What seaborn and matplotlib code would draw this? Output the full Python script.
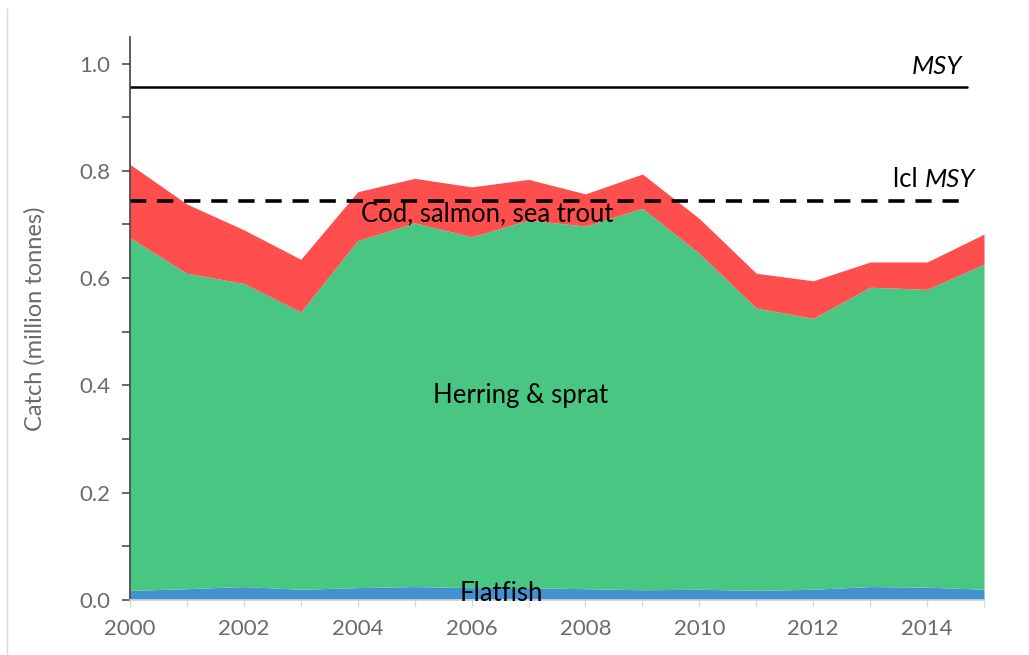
import numpy as np
import pandas as pd
import matplotlib
matplotlib.use("Agg")
import matplotlib.pyplot as plt
from matplotlib.lines import Line2D
from matplotlib.ticker import MultipleLocator
import seaborn as sns

# Baltic Sea catch by species group (million tonnes)
years = [2000, 2001, 2002, 2003, 2004, 2005, 2006, 2007,
         2008, 2009, 2010, 2011, 2012, 2013, 2014, 2015]
flatfish = [0.018, 0.021, 0.025, 0.020, 0.023, 0.025, 0.023, 0.023,
            0.021, 0.019, 0.020, 0.018, 0.020, 0.025, 0.024, 0.020]
herring_sprat = [0.657, 0.588, 0.565, 0.517, 0.647, 0.678, 0.654, 0.685,
                 0.676, 0.711, 0.626, 0.526, 0.505, 0.558, 0.555, 0.606]
cod_salmon_trout = [0.137, 0.129, 0.100, 0.098, 0.091, 0.083, 0.093, 0.076,
                    0.060, 0.064, 0.065, 0.065, 0.070, 0.047, 0.051, 0.056]

msy = 0.957
lcl_msy = 0.744
ref_years = [2000, 2014.7]

sns.set_theme(style="white")
plt.rcParams["font.family"] = ["Lato", "DejaVu Sans"]

fig = plt.figure(figsize=(10.29, 6.55), dpi=100)
ax = fig.add_axes([0.1263, 0.084, 0.8300, 0.860])

green = "#48C682"
red = "#FE4E4E"
blue = "#4392D0"

ax.stackplot(years, flatfish, herring_sprat, cod_salmon_trout,
             colors=[blue, green, red], linewidth=0)

ref = pd.DataFrame({"year": ref_years * 2,
                    "value": [msy, msy, lcl_msy, lcl_msy],
                    "line": ["MSY", "MSY", "lcl MSY", "lcl MSY"]})
sns.lineplot(data=ref[ref.line == "MSY"], x="year", y="value", ax=ax,
             color="black", linewidth=1.8, legend=False)
sns.lineplot(data=ref[ref.line == "lcl MSY"], x="year", y="value", ax=ax,
             color="black", linewidth=2.6, legend=False)
ax.lines[-1].set_dashes([4.5, 3.0])

ax.set_xlim(2000, 2015)
ax.set_ylim(0, 1.05)

# Axis styling
sns.despine(ax=ax, top=True, right=True)
ax.spines["left"].set_color("#404040")
ax.spines["left"].set_linewidth(1.2)
ax.spines["bottom"].set_color("#D9D9D9")
ax.spines["bottom"].set_linewidth(1.2)

ax.yaxis.set_minor_locator(MultipleLocator(0.1))
ax.set_yticks([0.0, 0.2, 0.4, 0.6, 0.8, 1.0])
ax.set_yticklabels(["0.0", "0.2", "0.4", "0.6", "0.8", "1.0"])
ax.set_xticks(list(range(2000, 2016)), minor=True)
ax.set_xticks(list(range(2000, 2015, 2)))
ax.set_xticklabels([str(y) for y in range(2000, 2015, 2)])

ax.tick_params(axis="y", which="both", direction="out", left=True,
               length=6, width=1.1, color="#404040",
               labelsize=16, labelcolor="#6b6b6b", pad=8)
ax.tick_params(axis="x", which="both", direction="out", bottom=True,
               length=5, width=1.0, color="#D9D9D9",
               labelsize=16, labelcolor="#6b6b6b", pad=9)

ax.set_xlabel("")
ax.set_ylabel("Catch (million tonnes)", fontsize=17, color="#6b6b6b",
              labelpad=24)
ax.grid(False)

# In-area labels
label_kw = dict(fontsize=18.5, ha="center", va="center", color="black")
ax.text(2006.86, 0.382, "Herring & sprat", **label_kw)
ax.text(2006.28, 0.719, "Cod, salmon, sea trout", **label_kw)
ax.text(2006.53, 0.013, "Flatfish", **label_kw)
ax.text(2014.17, 0.995, "MSY", style="italic", **label_kw)
ax.text(2013.95, 0.783, "lcl ", fontsize=18.5, ha="right", va="center",
        color="black")
ax.text(2013.95, 0.783, "MSY", fontsize=18.5, ha="left", va="center",
        style="italic", color="black")

# Thin frame line at the left edge of the figure
fig.add_artist(Line2D([7 / 1029, 7 / 1029], [0, 1 - 8 / 655],
                      transform=fig.transFigure, color="#D9D9D9",
                      linewidth=1.0))

fig.savefig("out.png", dpi=100)
